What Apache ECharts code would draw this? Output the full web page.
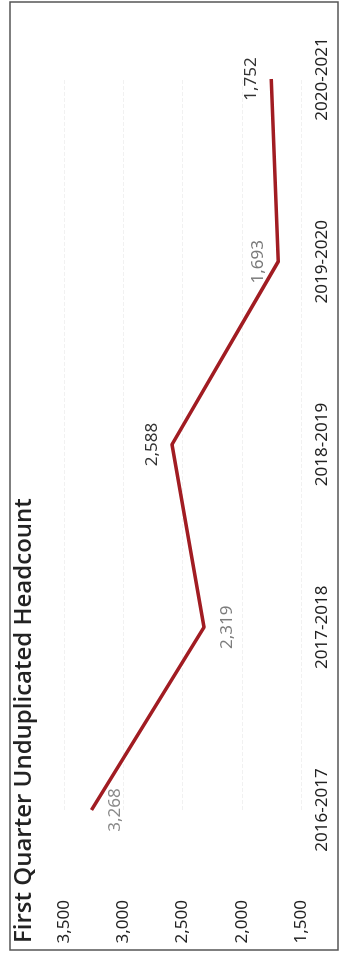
<!DOCTYPE html>
<html>
<head>
<meta charset="utf-8">
<script src="https://cdn.jsdelivr.net/npm/echarts@6/dist/echarts.min.js"></script>
<style>
  html, body { margin: 0; padding: 0; background: #fff; overflow: hidden; }
  #wrap { position: absolute; left: 0; top: 956px; width: 956px; height: 343px;
          transform-origin: 0 0; transform: rotate(-90deg); }
</style>
</head>
<body>
<div id="wrap"></div>
<script>
// chart data
const years = ["2016-2017", "2017-2018", "2018-2019", "2019-2020", "2020-2021"];
const headcount = [3268, 2319, 2588, 1693, 1752];
const yTicks = [1500, 2000, 2500, 3000, 3500];

// label look per point (the scan shows some lighter labels)
const labelPos = ["bottom", "bottom", "top", "top", "top"];
const labelColor = ["#8a8a8a", "#7d7d7d", "#333", "#7a7a7a", "#333"];

const chart = echarts.init(document.getElementById("wrap"));

const fmt = v => v.toLocaleString("en-US");

chart.setOption({
    animation: false,
    title: {
        text: "First Quarter Unduplicated Headcount",
        left: 8,
        top: 7,
        textStyle: {
            fontFamily: "Open Sans",
            fontWeight: 600,
            fontSize: 24,
            color: "#222",
        },
    },
    graphic: [{
        type: "rect",
        shape: { x: 6, y: 10, width: 948, height: 328 },
        style: { fill: "none", stroke: "#555", lineWidth: 1.5 },
    }],
    grid: { left: 146, right: 79, top: 64, bottom: 42 },
    xAxis: {
        type: "category",
        data: years,
        boundaryGap: false,
        axisLine: { show: false },
        axisTick: { show: false },
        axisLabel: {
            margin: 13,
            fontFamily: "Noto Sans",
            fontSize: 17,
            color: "#222",
        },
    },
    yAxis: {
        type: "value",
        min: yTicks[0],
        max: yTicks[yTicks.length - 1],
        interval: 500,
        axisLine: { show: false },
        axisTick: { show: false },
        splitLine: { lineStyle: { color: "#f1f1f1", type: "dashed" } },
        axisLabel: {
            margin: 90,
            fontFamily: "Noto Sans",
            fontSize: 17,
            color: "#222",
            formatter: fmt,
        },
    },
    series: [{
        type: "line",
        symbol: "circle",
        symbolSize: 0.1,
        lineStyle: { color: "#a11c22", width: 3.5 },
        itemStyle: { color: "#a11c22" },
        data: headcount.map((v, i) => ({
            value: v,
            label: {
                show: true,
                position: labelPos[i],
                distance: labelPos[i] === "top" ? 11 : 15,
                color: labelColor[i],
                fontFamily: "Noto Sans",
                fontSize: 17,
                formatter: p => fmt(p.value),
            },
        })),
    }],
});
</script>
</body>
</html>
